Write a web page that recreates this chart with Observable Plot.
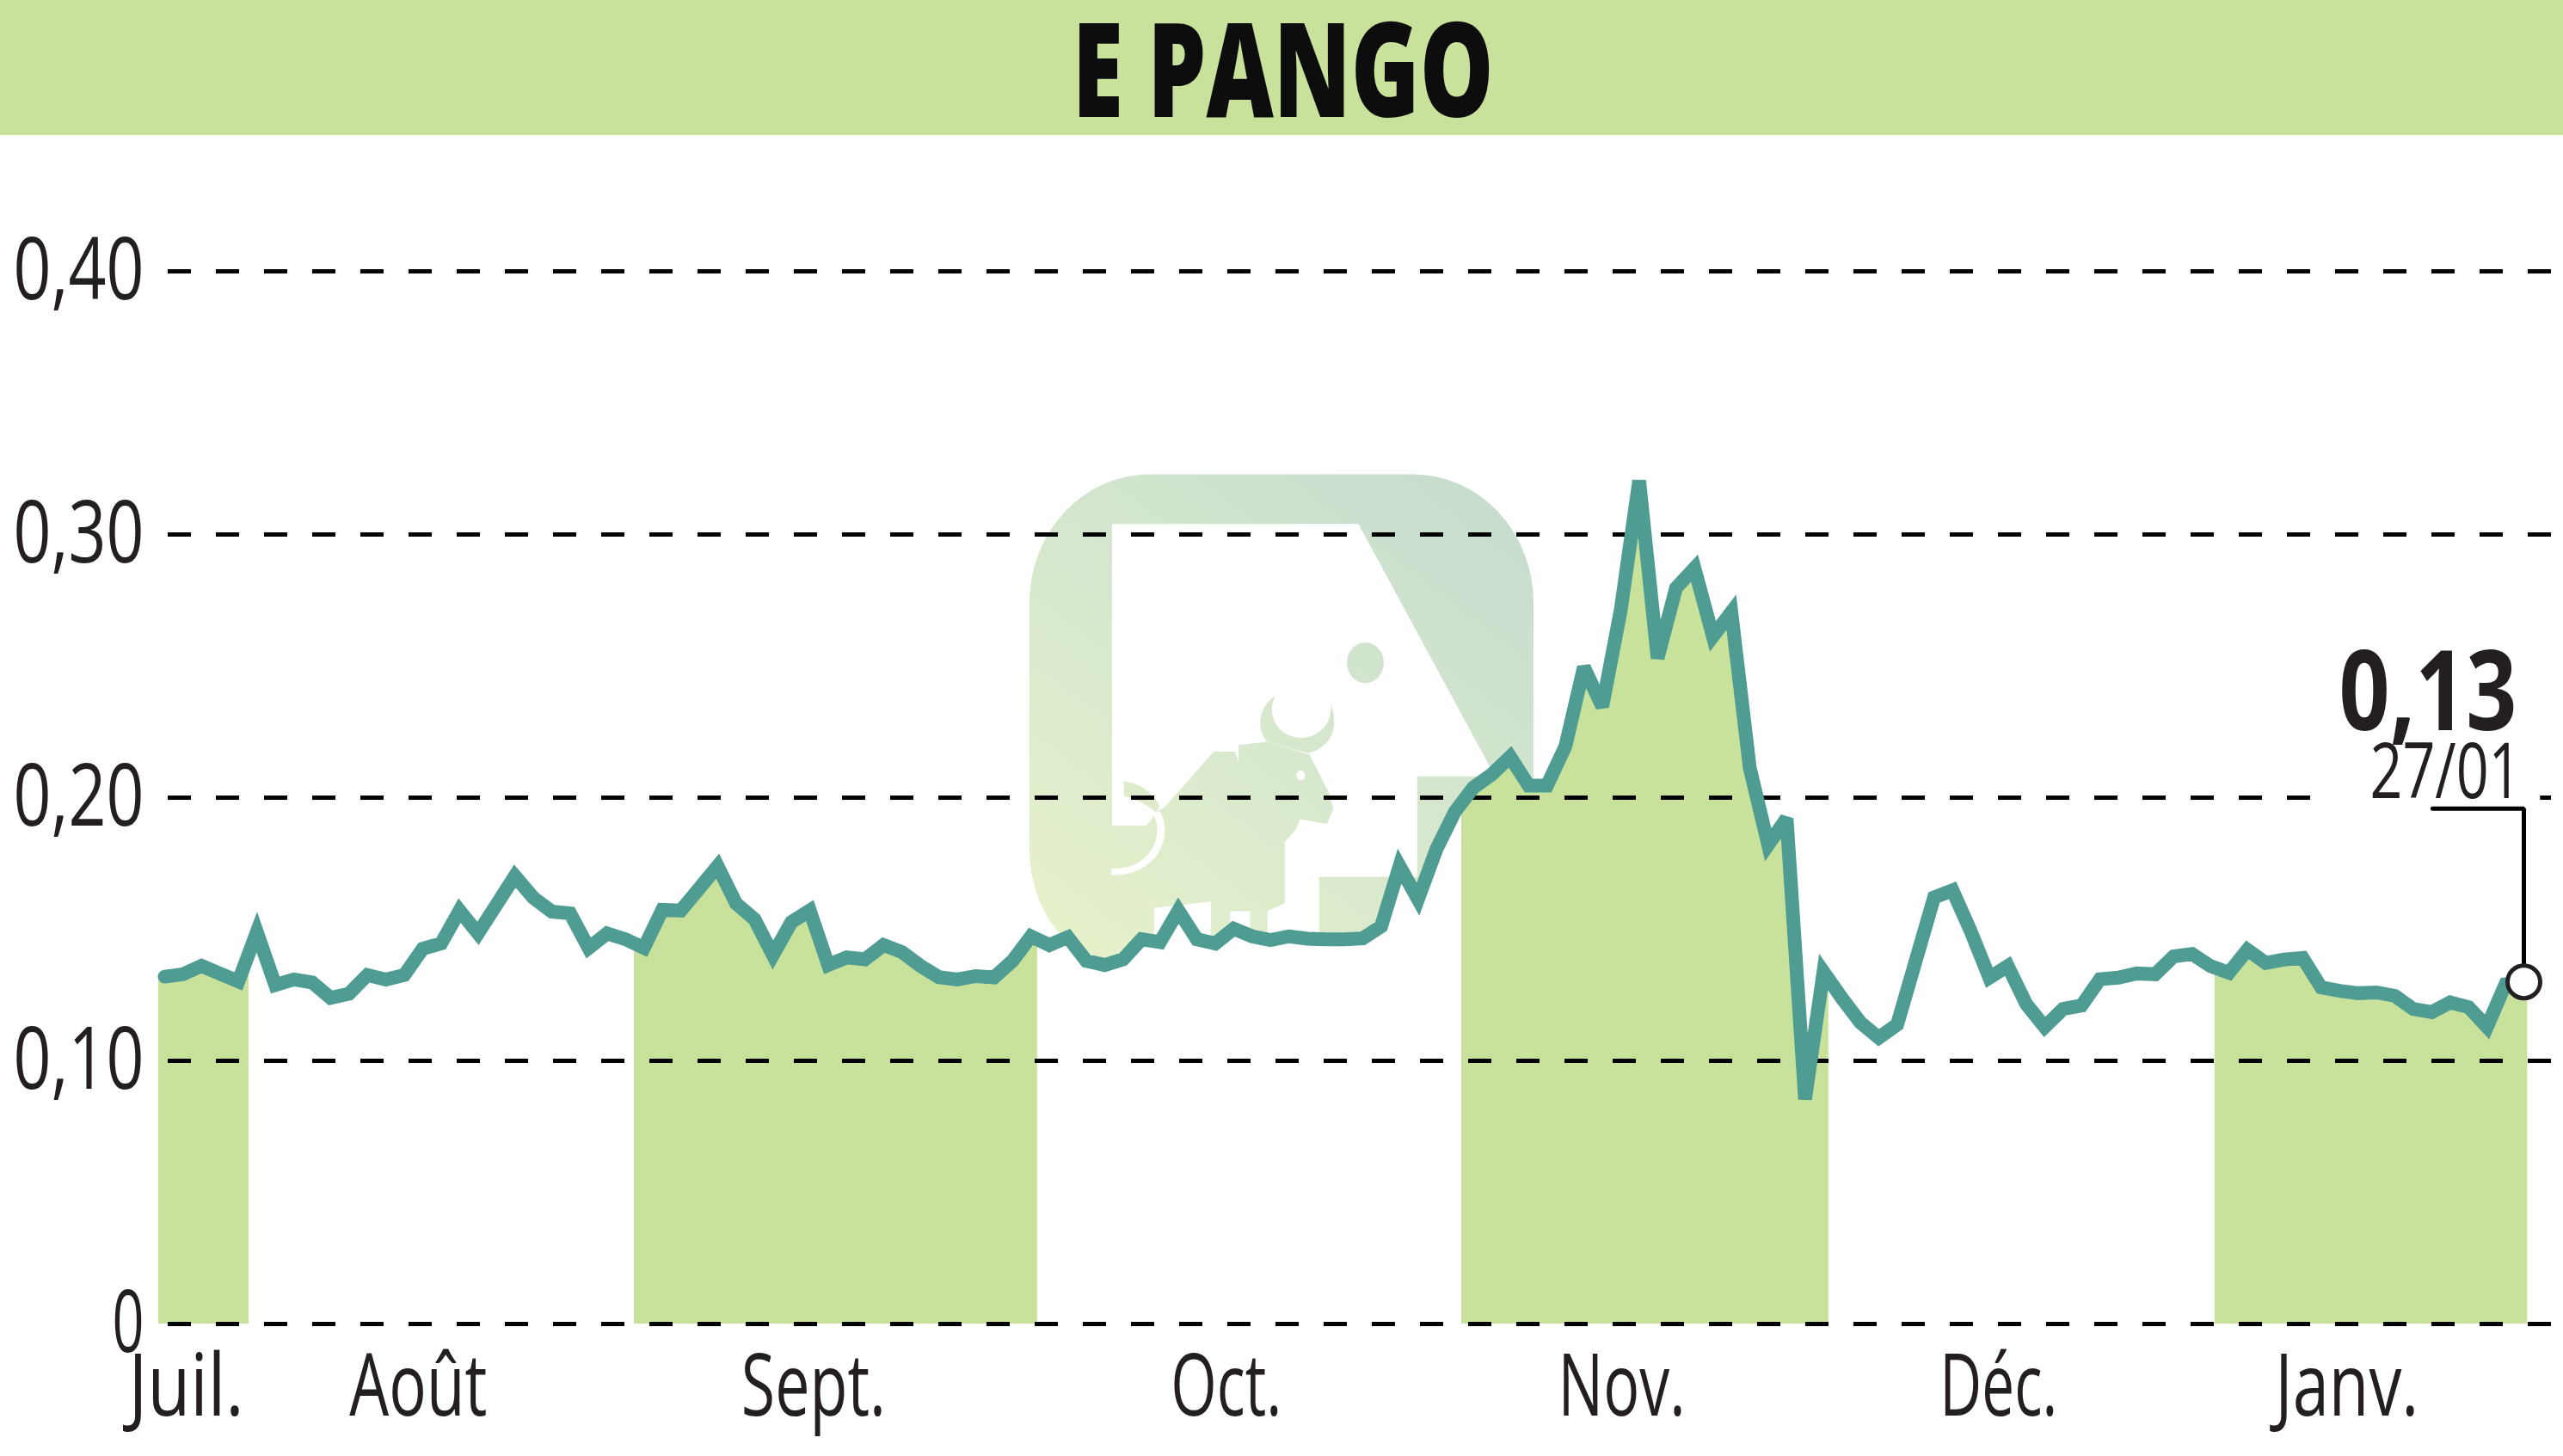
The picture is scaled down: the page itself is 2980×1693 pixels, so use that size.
<!DOCTYPE html>
<html lang="fr">
<head>
<meta charset="utf-8">
<script src="https://cdn.jsdelivr.net/npm/d3@7"></script>
<script src="https://cdn.jsdelivr.net/npm/@observablehq/plot@0.6"></script>
<style>
  html,body{margin:0;padding:0;background:#fff;overflow:hidden;width:2980px;height:1693px}
  #page{position:relative;width:2980px;height:1693px;font-family:"Open Sans",sans-serif}
  #logo{position:absolute;left:0;top:0;z-index:0}
  #head{position:relative;z-index:2;height:157px;background:#c8e29b;display:flex;align-items:center;justify-content:center}
  #head span{display:inline-block;font-weight:800;font-size:152px;color:#0d0d0d;white-space:nowrap;line-height:157px}
  #chart{position:relative;z-index:1}
  #chart svg{display:block}
</style>
</head>
<body>
<div id="page">
  <svg id="logo" width="2980" height="1693">
    <defs>
      <linearGradient id="lg" gradientUnits="userSpaceOnUse" x1="105" y1="1560" x2="1418" y2="82">
        <stop offset="0" stop-color="#e8f2cb"/>
        <stop offset="1" stop-color="#c4dccf"/>
      </linearGradient>
    </defs>
    <g transform="translate(1150,520) scale(.4464,.3827)">
      <rect x="105" y="82" width="1313" height="1530" rx="315" ry="390" fill="url(#lg)"/>
      <path fill="#fff" d="M320,233 L962,233 L1318,1000 L1115,1000 L1115,1305 L860,1305 L860,1640 L725,1640 L725,1410 L770,1385 L770,1200 L800,1160 L810,1130 L880,1145 L897,1100 L885,1050 L835,935 L725,895 L650,905 L650,955 L640,925 L585,925 L460,1090 L440,1105 L410,1150 L320,1150 Z"/>
      <path fill="#fff" d="M628,1410 L680,1410 L680,1640 L628,1640 Z M430,1400 L578,1380 L578,1640 L430,1640 Z"/>
      <path fill="url(#lg)" d="M745,755 C700,790 695,860 725,895 L830,930 C885,915 915,860 890,780 C895,850 850,885 810,883 C755,880 720,820 745,755 Z"/>
      <path fill="url(#lg)" d="M350,1015 C395,1020 425,1050 445,1090 L435,1110 C415,1085 380,1070 352,1060 Z"/>
      <path fill="none" stroke="#fff" stroke-width="20" d="M436,1110 C470,1180 430,1295 318,1290"/>
      <ellipse cx="812" cy="997" rx="11" ry="15" fill="#fff"/>
      <ellipse cx="980" cy="655" rx="48" ry="62" fill="url(#lg)"/>
    </g>
  </svg>
  <div id="head"><span>E PANGO</span></div>
  <div id="chart"></div>
</div>
<script>
const prices = [
  0.1320,0.1329,0.1361,0.1331,0.1302,0.1489,0.1288,0.1309,0.1298,0.1239,
  0.1255,0.1326,0.1309,0.1326,0.1426,0.1446,0.1571,0.1484,0.1593,0.1702,
  0.1620,0.1567,0.1560,0.1429,0.1484,0.1462,0.1429,0.1574,0.1571,0.1655,
  0.1740,0.1598,0.1538,0.1402,0.1527,0.1571,0.1364,0.1393,0.1386,0.1440,
  0.1413,0.1361,0.1318,0.1309,0.1322,0.1317,0.1380,0.1473,0.1440,0.1470,
  0.1380,0.1364,0.1386,0.1462,0.1451,0.1571,0.1462,0.1446,0.1502,0.1473,
  0.1459,0.1473,0.1464,0.1462,0.1462,0.1465,0.1511,0.1740,0.1614,0.1804,
  0.1946,0.2038,0.2088,0.2155,0.2046,0.2046,0.2196,0.2496,0.2346,0.2713,
  0.3205,0.2530,0.2797,0.2872,0.2613,0.2705,0.2113,0.1821,0.1921,0.0854,
  0.1338,0.1238,0.1146,0.1088,0.1138,0.1379,0.1621,0.1648,0.1491,0.1316,
  0.1360,0.1216,0.1129,0.1197,0.1210,0.1310,0.1316,0.1332,0.1329,0.1397,
  0.1406,0.1360,0.1335,0.1422,0.1372,0.1385,0.1391,0.1279,0.1266,0.1257,
  0.1260,0.1247,0.1197,0.1185,0.1222,0.1204,0.1129,0.1291,0.1297
];
const monthEdges = [-0.33,4.57,25.48,47.36,70.37,90.29,111.24,128.2];
const monthLabels = ["Juil.","Août","Sept.","Oct.","Nov.","Déc.","Janv."];
const monthLabelPos = [1.17,13.76,35.2,57.6,79.05,99.5,118.4];
const yTicks = [0,0.1,0.2,0.3,0.4];
const lastValue = "0,13";
const lastDate = "27/01";
const textWidths = {"0,40":152,"0,30":152,"0,20":152,"0,10":152,"0":37,"0,13":207,"27/01":176,
  "Juil.":134,"Août":160,"Sept.":168,"Oct.":129,"Nov.":148,"Déc.":137,"Janv.":167};

const series = prices.map((v,i)=>({i,v}));
const last = series[series.length-1];
const at = t => {
  const c = Math.max(0,Math.min(prices.length-1,t));
  const f = Math.floor(c);
  return f>=prices.length-1 ? prices[f] : prices[f]+(prices[f+1]-prices[f])*(c-f);
};
const rows = (a,b) => [a,...d3.range(Math.ceil(a),Math.floor(b)+1),b].map(i=>({i,v:at(i)}));
const GREEN="#c8e29b", TEAL="#4f9c93", INK="#231f20";

const monthAreas = monthLabels.map((_,m)=>
  Plot.areaY(rows(monthEdges[m],monthEdges[m+1]),{x:"i",y:"v",fill:m%2===0?GREEN:"#fff"}));

const plot = Plot.plot({
  width:2980,height:1536,
  marginLeft:195,marginRight:0,marginTop:0,marginBottom:154,
  style:{background:"transparent",fontFamily:'"Open Sans",sans-serif',overflow:"visible"},
  x:{domain:[0,128],range:[191,2934]},
  y:{domain:[0,0.4],range:[1382,158]},
  marks:[
    ...monthAreas,
    Plot.ruleY(yTicks,{stroke:"#000",strokeWidth:5,strokeDasharray:"27,29"}),
    Plot.rect([{a:116.9,b:128.9,c:0.196,d:0.204}],{x1:"a",x2:"b",y1:"c",y2:"d",fill:"#fff"}),
    Plot.line(series,{x:"i",y:"v",stroke:TEAL,strokeWidth:16,strokeLinejoin:"miter",strokeMiterlimit:3,curve:"linear"}),
    Plot.line([{x:123.05,y:0.1958},{x:128,y:0.1958},{x:128,y:last.v}],{x:"x",y:"y",stroke:"#000",strokeWidth:5,strokeLinejoin:"miter"}),
    Plot.dot([last],{x:"i",y:()=>0.13,r:19,fill:"#fff",stroke:INK,strokeWidth:5}),
    Plot.text([lastValue],{x:()=>128,y:()=>0.2258,text:d=>d,textAnchor:"end",lineAnchor:"bottom",dx:-8,fontSize:129,fontWeight:700,fill:INK}),
    Plot.text([lastDate],{x:()=>128,y:()=>0.2,text:d=>d,textAnchor:"end",lineAnchor:"bottom",dx:-3,fontSize:90,fill:INK}),
    Plot.axisY({ticks:yTicks,tickSize:0,tickPadding:28,fontSize:100,color:INK,label:null,
      tickFormat:d=>d===0?"0":d3.format(".2f")(d).replace(".",",")}),
    Plot.axisX({ticks:monthLabelPos,tickSize:0,tickPadding:35,fontSize:100,color:INK,label:null,
      tickFormat:(d,i)=>monthLabels[i]})
  ]
});
document.getElementById("chart").append(plot);

plot.querySelectorAll("text").forEach(t=>{
  const w = textWidths[t.textContent.trim()];
  if (w) { t.setAttribute("textLength",w); t.setAttribute("lengthAdjust","spacingAndGlyphs"); }
});
const title = document.querySelector("#head span");
const tw = title.getBoundingClientRect().width;
title.style.transform = `translate(2px,-1px) scaleX(${490/tw})`;
</script>
</body>
</html>
